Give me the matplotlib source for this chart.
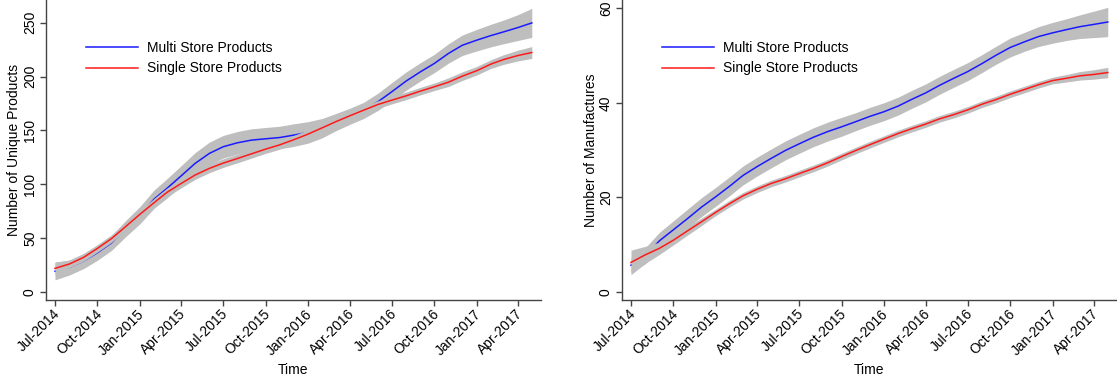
""" smoothed growth of products and manufactures """
import numpy as np
import matplotlib
matplotlib.use("Agg")
import matplotlib.pyplot as plt
import matplotlib.dates as mdates
from matplotlib.transforms import ScaledTranslation

plt.rcParams['font.family'] = ['Liberation Sans', 'DejaVu Sans']
plt.rcParams['font.size'] = 10

# monthly points, Jul-2014 .. May-2017
months = np.arange(np.datetime64('2014-07'), np.datetime64('2017-06'), np.timedelta64(1, 'M'))
tick_months = np.arange(np.datetime64('2014-07'), np.datetime64('2017-05'), np.timedelta64(3, 'M'))

# left panel: unique products
prod_multi = [19, 22.5, 28.5, 36.2, 45.5, 58.5, 71, 86, 96, 107.7, 119.2, 128.5,
              134.7, 138.4, 140.9, 142.1, 143.3, 145.5, 148, 152, 157.5, 163, 168.5, 176.5,
              185.8, 195.7, 204.3, 212, 221.4, 229, 233.7, 238, 241.5, 245.5, 249.8]
prod_multi_se = [8, 7, 7, 7, 7, 7.5, 8, 8.5, 9, 9.5, 10, 10.5,
                 10.5, 10.5, 10.5, 10.5, 10.5, 10.5, 10, 9, 8, 7.5, 7.5, 8,
                 8.5, 8.5, 8.5, 8.5, 9, 9.5, 10, 10.5, 11, 12, 13.5]
prod_single = [21.7, 25.7, 31.9, 40.2, 49.5, 60.4, 71.8, 82.7, 92.3, 100.6, 108.4, 114.6,
               119.5, 123.8, 128.2, 132.5, 136.5, 141.2, 146.4, 152.3, 157.9, 163.5, 168.7, 174,
               178, 182, 186.4, 190.4, 194.7, 200.3, 205.3, 211.5, 215.8, 219.5, 222.3]
prod_single_se = [6, 3.5, 3.5, 3.5, 3.5, 3.5, 3.5, 4, 4, 4, 4, 4,
                  4, 4, 4, 4, 4, 4, 4, 4, 4, 4, 3.5, 3.5,
                  3.5, 3.5, 3.5, 3.5, 4, 4, 4, 4, 4.5, 5, 5.5]

# right panel: manufactures
manu_multi = [5.6, 7.6, 10.8, 13.1, 15.5, 17.9, 20.1, 22.4, 24.6, 26.5, 28.2, 29.9,
              31.3, 32.7, 33.9, 34.9, 36, 37.1, 38.1, 39.3, 40.7, 42.1, 43.7, 45.2,
              46.6, 48.3, 50.1, 51.7, 52.9, 54, 54.8, 55.5, 56.1, 56.6, 57.1]
manu_multi_se = [1.5, 1.7, 1.8, 1.9, 2, 2, 2, 2, 2, 2, 2, 2,
                 2, 2, 2, 2, 1.9, 1.9, 1.9, 1.9, 1.9, 1.9, 1.9, 1.9,
                 1.9, 1.9, 1.9, 2, 2, 2.1, 2.2, 2.3, 2.5, 2.8, 3.1]
manu_single = [6.2, 7.8, 9.2, 10.9, 12.9, 14.8, 16.8, 18.7, 20.3, 21.7, 22.9, 23.9,
               25, 26.1, 27.3, 28.6, 29.9, 31.1, 32.3, 33.5, 34.5, 35.5, 36.6, 37.5,
               38.5, 39.7, 40.7, 41.8, 42.8, 43.8, 44.7, 45.2, 45.7, 46, 46.4]
manu_single_se = [2.6, 1.8, 1.3, 1, 0.9, 0.8, 0.7, 0.7, 0.7, 0.7, 0.7, 0.7,
                  0.7, 0.7, 0.7, 0.7, 0.7, 0.7, 0.7, 0.7, 0.7, 0.7, 0.7, 0.7,
                  0.7, 0.7, 0.7, 0.7, 0.7, 0.7, 0.7, 0.8, 0.9, 1, 1.1]

labels = ['Multi Store Products', 'Single Store Products']


def panel(fig, ax, multi, multi_se, single, single_se, ylabel, yticks, ylim, ylab_x):
    """ one R-style panel """
    x = months.astype('datetime64[D]').astype(object)
    multi = np.array(multi)
    single = np.array(single)
    # drawn in order, so the single band hides the multi line where they meet
    ax.fill_between(x, multi - np.array(multi_se), multi + np.array(multi_se),
                    color='#bebebe', lw=0, zorder=1)
    ax.plot(x, multi, color='#1a1aff', lw=1.1, label=labels[0], zorder=2)
    ax.fill_between(x, single - np.array(single_se), single + np.array(single_se),
                    color='#bebebe', lw=0, zorder=3)
    ax.plot(x, single, color='#ff1a1a', lw=1.1, label=labels[1], zorder=4)

    start = mdates.date2num(np.datetime64('2014-07-01'))
    ax.set_xlim(start - 19.5, start + 1055)
    ax.set_ylim(ylim)
    ax.set_xticks(tick_months.astype('datetime64[D]').astype(object))
    ax.xaxis.set_major_formatter(mdates.DateFormatter('%b-%Y'))
    ax.set_yticks(yticks)
    for s in ['top', 'right']:
        ax.spines[s].set_visible(False)
    for s in ['left', 'bottom']:
        ax.spines[s].set_color('#444444')
        ax.spines[s].set_linewidth(1)
    ax.tick_params(length=4.5, width=1, color='#444444', labelsize=10)
    ax.tick_params(axis='y', pad=2)
    ax.tick_params(axis='x', pad=4)
    plt.setp(ax.get_yticklabels(), rotation=90, va='center')
    shift = ScaledTranslation(2.5 / 100, 0, fig.dpi_scale_trans)
    for lab in ax.get_xticklabels():
        lab.set_rotation(45)
        lab.set_ha('right')
        lab.set_va('center')
        lab.set_rotation_mode('anchor')
        lab.set_transform(lab.get_transform() + shift)
    ax.set_xlabel('Time', fontsize=10)
    ax.xaxis.set_label_coords(0.5, -0.21)
    ax.set_ylabel(ylabel, fontsize=10)
    ax.yaxis.set_label_coords(ylab_x, 0.5)
    ax.legend(loc='upper left', bbox_to_anchor=(0.08, 0.865), frameon=False,
              handlelength=3.8, handletextpad=0.65, borderpad=0, borderaxespad=0,
              labelspacing=0.5, fontsize=10)


def main():
    fig = plt.figure(figsize=(11.17, 3.86), dpi=100)
    ax1 = fig.add_axes([46 / 1117, 86 / 386, 495 / 1117, 300 / 386])
    ax2 = fig.add_axes([622 / 1117, 86 / 386, 495 / 1117, 300 / 386])
    panel(fig, ax1, prod_multi, prod_multi_se, prod_single, prod_single_se,
          'Number of Unique Products', [0, 50, 100, 150, 200, 250], (-7.7, 271.1), -0.05)
    panel(fig, ax2, manu_multi, manu_multi_se, manu_single, manu_single_se,
          'Number of Manufactures', [0, 20, 40, 60], (-1.76, 61.76), -0.048)
    fig.savefig('out.png', dpi=100)


if __name__ == "__main__":
    main()
